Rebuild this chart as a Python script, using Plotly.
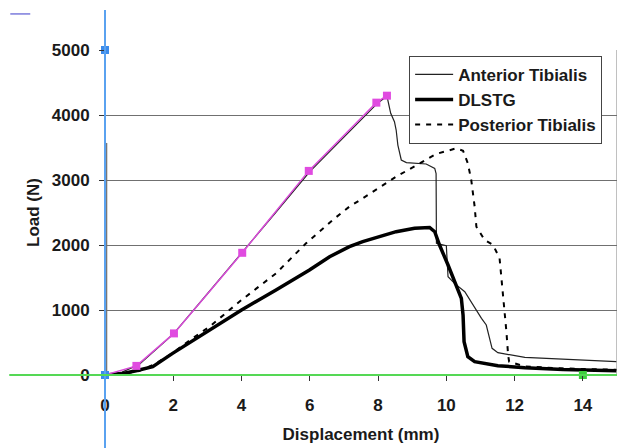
import plotly.graph_objects as go

# ---- data ----
ant_x = [0, 0.5, 1.0, 1.5, 2.0, 3.0, 4.0, 5.0, 6.0, 7.0, 8.0, 8.26, 8.29, 8.37, 8.48, 8.53, 8.58,
         8.68, 8.83, 9.41, 9.66, 9.70, 9.71, 10.0, 10.05, 10.24, 10.54, 10.78, 11.03, 11.17, 11.27,
         11.34, 11.51, 11.86, 12.30, 12.93, 13.52, 14.98]
ant_y = [0, 45, 160, 390, 630, 1250, 1870, 2500, 3130, 3660, 4190, 4290, 4205, 4026, 3897, 3769, 3538,
         3308, 3267, 3246, 3179, 3100, 2026, 1990, 1513, 1410, 1282, 1077, 872, 769, 564,
         410, 343, 308, 272, 256, 241, 205]

dl_x = [0, 0.5, 0.91, 1.4, 1.98, 2.77, 3.4, 4.0, 5.01, 5.99, 6.58, 7.16, 7.55, 8.53, 9.07, 9.51,
        9.66, 9.80, 10.05, 10.29, 10.44, 10.49, 10.52, 10.63, 10.83, 11.51, 12.30, 13.42, 14.98]
dl_y = [0, 20, 66, 128, 333, 590, 800, 1000, 1308, 1615, 1820, 1974, 2051, 2205, 2256, 2270,
        2205, 2000, 1692, 1385, 1180, 923, 512, 282, 205, 143, 113, 85, 66]

post_x = [0, 0.5, 1.0, 1.5, 2.0, 2.5, 3.06, 4.0, 5.01, 5.89, 6.67, 7.16, 7.55, 8.53, 9.31, 9.70,
          10.29, 10.49, 10.63, 10.73, 10.83, 10.88, 11.12, 11.37, 11.56, 11.63, 11.71, 11.76,
          11.81, 11.84, 12.3, 13.5, 14.98]
post_y = [0, 15, 60, 180, 345, 540, 743, 1154, 1564, 2026, 2385, 2590, 2718, 3051, 3282, 3400,
          3487, 3451, 3256, 3000, 2590, 2282, 2077, 2000, 1795, 1436, 1026, 667,
          308, 205, 130, 100, 80]

mag_x = [0, 0.92, 2.02, 4.02, 5.97, 7.95, 8.26]
mag_y = [0, 140, 640, 1880, 3140, 4190, 4297]

blue_x = [0, 0]
blue_y = [0, 5000]
green_x = [14]
green_y = [0]

y_ticks = [0, 1000, 2000, 3000, 4000, 5000]
x_ticks = [0, 2, 4, 6, 8, 10, 12, 14]

FONT = "Liberation Sans, Arial, sans-serif"
TXT = "#1a1a1a"

fig = go.Figure()
fig.add_trace(go.Scatter(x=ant_x, y=ant_y, mode="lines", name="Anterior Tibialis",
                         line=dict(color="#222222", width=1.2), legendgroup="a"))
fig.add_trace(go.Scatter(x=dl_x, y=dl_y, mode="lines", name="DLSTG",
                         line=dict(color="#000000", width=3.5), legendgroup="b"))
fig.add_trace(go.Scatter(x=post_x, y=post_y, mode="lines", name="Posterior Tibialis",
                         line=dict(color="#000000", width=2, dash="5px,6px"), legendgroup="c"))
fig.add_trace(go.Scatter(x=mag_x, y=mag_y, mode="lines+markers", showlegend=False,
                         line=dict(color="#d94bd9", width=1.5),
                         marker=dict(symbol="square", size=8, color="#e04be0"),
                         cliponaxis=False))
fig.add_trace(go.Scatter(x=green_x, y=green_y, mode="markers", showlegend=False,
                         marker=dict(symbol="square", size=8, color="#3ecf3e"),
                         cliponaxis=False))
fig.add_trace(go.Scatter(x=blue_x, y=blue_y, mode="markers", showlegend=False,
                         marker=dict(symbol="square", size=8, color="#3b8beb"),
                         cliponaxis=False))

shapes = [
    # remnant of original y axis
    dict(type="line", xref="paper", yref="paper", x0=0.003, x1=0.003, y0=0, y1=0.714,
         line=dict(color="#777777", width=1.5), layer="below"),
    # right border
    dict(type="line", xref="paper", yref="paper", x0=1, x1=1, y0=0, y1=1,
         line=dict(color="#808080", width=1), layer="below"),
    # blue vertical line
    dict(type="line", xref="paper", yref="paper", x0=0, x1=0, y0=-0.225, y1=1.123,
         line=dict(color="#5aa2f0", width=2)),
    # green horizontal line
    dict(type="line", xref="paper", yref="paper", x0=-0.187, x1=1.016, y0=0, y1=0,
         line=dict(color="#55d855", width=2)),
    # small dash top left
    dict(type="line", xref="paper", yref="paper", x0=-0.185, x1=-0.146, y0=1.111, y1=1.111,
         line=dict(color="#7b7bdc", width=1.5)),
]

# page body adds an 8px offset, so the figure is 8px smaller and margins shifted
fig.update_layout(
    width=617, height=440,
    margin=dict(l=97, r=8, t=42, b=73),
    paper_bgcolor="white", plot_bgcolor="white",
    font=dict(family=FONT, size=17, color=TXT, weight="bold"),
    shapes=shapes,
    showlegend=True,
    legend=dict(x=0.594, y=0.982, xanchor="left", yanchor="top",
                bgcolor="white", bordercolor="#444444", borderwidth=1,
                font=dict(family=FONT, size=17, color=TXT, weight="bold"),
                tracegroupgap=0, itemwidth=38),
    xaxis=dict(range=[0, 15], tickvals=x_ticks, showgrid=False, zeroline=False,
               showline=False, ticks="outside", ticklen=5, tickcolor="#333333",
               tickfont=dict(family=FONT, size=17, color=TXT, weight="bold"),
               ticklabelstandoff=10,
               title=dict(text="Displacement (mm)", standoff=13,
                          font=dict(family=FONT, size=17, color=TXT, weight="bold"))),
    yaxis=dict(range=[0, 5000], tickvals=y_ticks, showgrid=True, gridcolor="#707070",
               gridwidth=1, zeroline=False, showline=False, ticks="outside", ticklen=5,
               tickcolor="#333333",
               tickfont=dict(family=FONT, size=17, color=TXT, weight="bold"),
               ticklabelstandoff=6,
               title=dict(text="Load (N)", standoff=7,
                          font=dict(family=FONT, size=17, color=TXT, weight="bold"))),
)

fig.write_html("out.html")
